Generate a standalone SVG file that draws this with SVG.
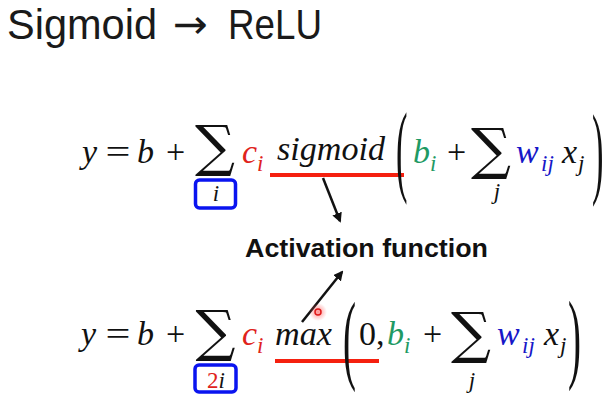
<svg xmlns="http://www.w3.org/2000/svg" width="613" height="402" viewBox="0 0 613 402">
  <defs>
    <style>
      .m { font-family: "Liberation Serif", "DejaVu Serif", serif; font-style: italic; font-size: 34px; fill: #111; }
      .u { font-family: "Liberation Serif", "DejaVu Serif", serif; font-style: normal; font-size: 34px; fill: #111; }
      .s { font-family: "Liberation Serif", "DejaVu Serif", serif; font-style: italic; font-size: 23px; fill: #111; }
      .sum { font-family: "DejaVu Serif", serif; font-style: normal; font-size: 56px; fill: #111; }
      .par { font-family: "Liberation Serif", serif; font-style: normal; font-size: 30px; fill: #111; }
      .red { fill: #e0231b; }
      .grn { fill: #1f9a64; }
      .blu { fill: #1717c8; }
      .ul { stroke: #f5200f; stroke-width: 4; fill: none; }
      .box { stroke: #0a14f0; stroke-width: 3.5; fill: none; }
      .arr { stroke: #111; stroke-width: 2.5; fill: none; marker-end: url(#ah); }
      .title { font-family: "Liberation Sans", "Noto Sans", sans-serif; font-size: 43px; fill: #1a1a1a; }
      .ttl-arrow { font-family: "DejaVu Sans", sans-serif; font-size: 40px; fill: #1a1a1a; }
      .lbl { font-family: "Liberation Sans", "Open Sans", sans-serif; font-weight: bold; font-size: 26px; fill: #111; }
    </style>
    <marker id="ah" viewBox="0 0 10 10" refX="8" refY="5" markerWidth="4" markerHeight="4" orient="auto" markerUnits="strokeWidth">
      <path d="M0,0 L10,5 L0,10 Z" fill="#111"/>
    </marker>
    <radialGradient id="glow">
      <stop offset="0" stop-color="#ff6060" stop-opacity="0.7"/>
      <stop offset="1" stop-color="#ff6060" stop-opacity="0"/>
    </radialGradient>
  </defs>
  <rect width="613" height="402" fill="#ffffff"/>

  <g id="title">
    <text class="title" x="7" y="39" textLength="150" lengthAdjust="spacingAndGlyphs">Sigmoid</text>
    <text class="ttl-arrow" x="173" y="38" textLength="35" lengthAdjust="spacingAndGlyphs">→</text>
    <text class="title" x="228" y="39" textLength="94" lengthAdjust="spacingAndGlyphs">ReLU</text>
  </g>

  <g id="eq-sigmoid">
    <text class="m" x="82" y="163">y</text>
    <text class="u" transform="translate(118,163) scale(1.3,1)" text-anchor="middle">=</text>
    <text class="m" x="137" y="163">b</text>
    <text class="u" x="166" y="163">+</text>
    <text class="sum" x="215" y="165" text-anchor="middle">∑</text>
    <rect class="box" x="195.5" y="180" width="40" height="28" rx="4"/>
    <text class="s" x="216" y="201" text-anchor="middle">i</text>
    <text class="m red" x="242" y="163">c</text>
    <text class="s red" x="257" y="171">i</text>
    <text class="m" x="277" y="160" textLength="108" lengthAdjust="spacingAndGlyphs">sigmoid</text>
    <line class="ul" x1="270" y1="175" x2="404" y2="175"/>
    <text class="par" transform="translate(396,183) scale(1.15,3.4)">(</text>
    <text class="m grn" x="413" y="163">b</text>
    <text class="s grn" x="430" y="171">i</text>
    <text class="u" x="447" y="163">+</text>
    <text class="sum" x="491" y="168" text-anchor="middle">∑</text>
    <text class="s" x="497" y="199" text-anchor="middle">j</text>
    <text class="m blu" x="516" y="163">w</text>
    <text class="s blu" x="541" y="171">ij</text>
    <text class="m" x="562" y="163">x</text>
    <text class="s" x="578" y="171">j</text>
    <text class="par" transform="translate(592,185) scale(1.15,3.4)">)</text>
  </g>

  <g id="activation-label">
    <text class="lbl" x="245" y="257" textLength="243" lengthAdjust="spacingAndGlyphs">Activation function</text>
  </g>

  <g id="eq-relu">
    <text class="m" x="81" y="345">y</text>
    <text class="u" transform="translate(118,345) scale(1.3,1)" text-anchor="middle">=</text>
    <text class="m" x="137" y="345">b</text>
    <text class="u" x="166" y="345">+</text>
    <text class="sum" x="215.5" y="350" text-anchor="middle">∑</text>
    <rect class="box" x="195" y="365" width="41" height="27" rx="4"/>
    <text class="s" x="216" y="388" text-anchor="middle"><tspan class="red" font-style="normal">2</tspan>i</text>
    <text class="m red" x="242" y="345">c</text>
    <text class="s red" x="257" y="353">i</text>
    <text class="m" x="275" y="345" textLength="57" lengthAdjust="spacingAndGlyphs">max</text>
    <line class="ul" x1="275" y1="361" x2="379" y2="361"/>
    <text class="par" transform="translate(343,371) scale(1.3,3.3)">(</text>
    <text class="u" x="359" y="345">0,</text>
    <text class="m grn" x="387" y="345">b</text>
    <text class="s grn" x="404" y="353">i</text>
    <text class="u" x="423" y="345">+</text>
    <text class="sum" x="471" y="352" text-anchor="middle">∑</text>
    <text class="s" x="472" y="388" text-anchor="middle">j</text>
    <text class="m blu" x="497" y="345">w</text>
    <text class="s blu" x="522" y="353">ij</text>
    <text class="m" x="544" y="345">x</text>
    <text class="s" x="560" y="353">j</text>
    <text class="par" transform="translate(568,370) scale(1.3,3.3)">)</text>
  </g>

  <g id="connectors">
    <line class="arr" x1="323" y1="178" x2="340" y2="221"/>
    <line class="arr" x1="302" y1="322" x2="342" y2="272"/>
  </g>

  <g id="pointer">
    <circle cx="318" cy="312" r="9" fill="url(#glow)"/>
    <circle cx="318" cy="312" r="3" fill="none" stroke="#e01818" stroke-width="1.5"/>
  </g>
</svg>
